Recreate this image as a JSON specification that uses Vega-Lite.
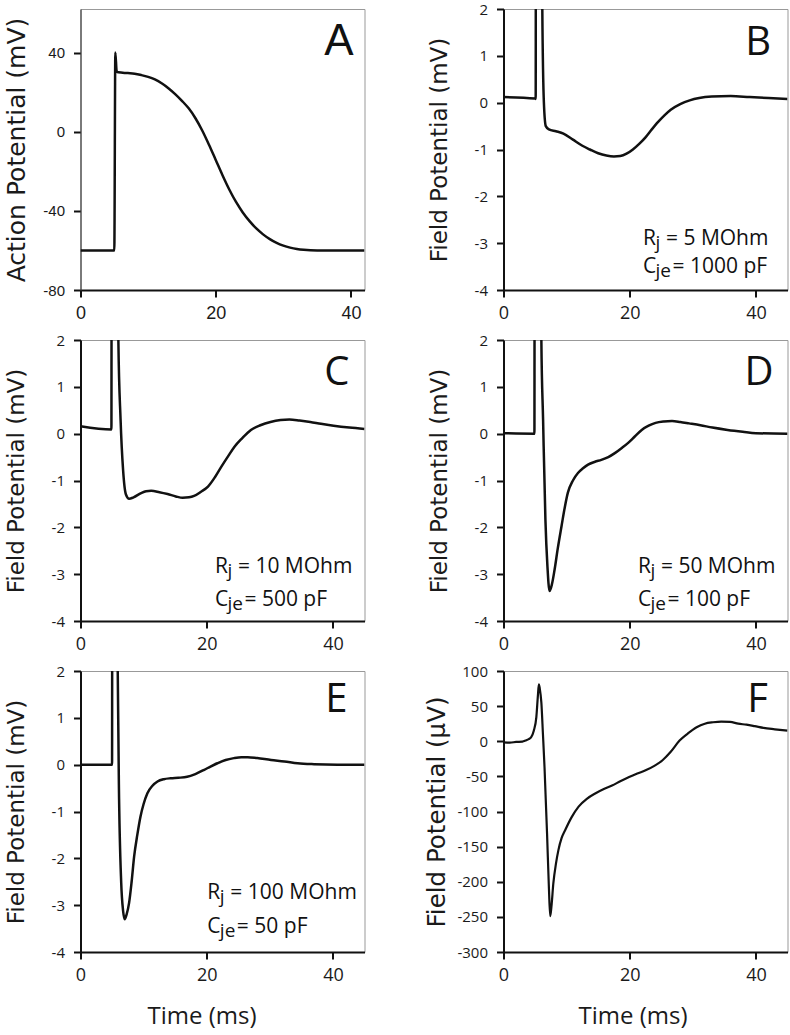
{
  "$schema": "https://vega.github.io/schema/vega-lite/v6.json",
  "background": "white",
  "padding": {"left": 3.5, "top": 1, "right": 0, "bottom": 0},
  "columns": 2,
  "spacing": {"row": 50, "column": 139},
  "bounds": "flush",
  "datasets": {
    "curves": [
      {"panel":"A","t":0,"v":-60},{"panel":"A","t":5.0,"v":-60},{"panel":"A","t":5.15,"v":40},{"panel":"A","t":5.35,"v":30.5},{"panel":"A","t":5.6,"v":30},{"panel":"A","t":7,"v":29.6},{"panel":"A","t":8,"v":29.3},{"panel":"A","t":9,"v":28.6},{"panel":"A","t":10,"v":27.7},{"panel":"A","t":11,"v":26.4},{"panel":"A","t":12,"v":24.5},{"panel":"A","t":13,"v":22.0},{"panel":"A","t":14,"v":19.0},{"panel":"A","t":15,"v":15.6},{"panel":"A","t":16,"v":11.8},{"panel":"A","t":17,"v":6.8},{"panel":"A","t":18,"v":0.6},{"panel":"A","t":19,"v":-6.6},{"panel":"A","t":20,"v":-14.3},{"panel":"A","t":21,"v":-22},{"panel":"A","t":22,"v":-29.2},{"panel":"A","t":23,"v":-35.5},{"panel":"A","t":24,"v":-40.8},{"panel":"A","t":25,"v":-45.2},{"panel":"A","t":26,"v":-48.9},{"panel":"A","t":27,"v":-51.9},{"panel":"A","t":28,"v":-54.3},{"panel":"A","t":29,"v":-56.2},{"panel":"A","t":30,"v":-57.6},{"panel":"A","t":31,"v":-58.6},{"panel":"A","t":32,"v":-59.3},{"panel":"A","t":33,"v":-59.7},{"panel":"A","t":35,"v":-60},{"panel":"A","t":42,"v":-60},

      {"panel":"B","t":0,"v":0.12},{"panel":"B","t":5.0,"v":0.09},{"panel":"B","t":5.1,"v":0.08},{"panel":"B","t":5.15,"v":8},{"panel":"B","t":5.9,"v":8},{"panel":"B","t":6.15,"v":2},{"panel":"B","t":6.4,"v":0},{"panel":"B","t":6.7,"v":-0.5},{"panel":"B","t":7.2,"v":-0.57},{"panel":"B","t":8.3,"v":-0.61},{"panel":"B","t":9.5,"v":-0.66},{"panel":"B","t":11,"v":-0.79},{"panel":"B","t":12.5,"v":-0.92},{"panel":"B","t":13.7,"v":-1.0},{"panel":"B","t":15,"v":-1.08},{"panel":"B","t":16.3,"v":-1.13},{"panel":"B","t":17.5,"v":-1.15},{"panel":"B","t":18.5,"v":-1.14},{"panel":"B","t":19.5,"v":-1.09},{"panel":"B","t":20.5,"v":-1.0},{"panel":"B","t":21.5,"v":-0.88},{"panel":"B","t":22.5,"v":-0.74},{"panel":"B","t":23.5,"v":-0.57},{"panel":"B","t":24.5,"v":-0.41},{"panel":"B","t":25.5,"v":-0.27},{"panel":"B","t":26.5,"v":-0.15},{"panel":"B","t":28,"v":-0.03},{"panel":"B","t":29.5,"v":0.05},{"panel":"B","t":31,"v":0.1},{"panel":"B","t":33,"v":0.13},{"panel":"B","t":36,"v":0.14},{"panel":"B","t":39,"v":0.12},{"panel":"B","t":42,"v":0.1},{"panel":"B","t":45,"v":0.08},

      {"panel":"C","t":0,"v":0.16},{"panel":"C","t":4.9,"v":0.09},{"panel":"C","t":4.95,"v":8},{"panel":"C","t":5.7,"v":8},{"panel":"C","t":6.0,"v":2},{"panel":"C","t":6.35,"v":0.3},{"panel":"C","t":6.75,"v":-0.78},{"panel":"C","t":7.2,"v":-1.3},{"panel":"C","t":7.7,"v":-1.39},{"panel":"C","t":8.4,"v":-1.36},{"panel":"C","t":9.6,"v":-1.27},{"panel":"C","t":10.4,"v":-1.23},{"panel":"C","t":11.2,"v":-1.22},{"panel":"C","t":12.5,"v":-1.25},{"panel":"C","t":13.8,"v":-1.29},{"panel":"C","t":15.1,"v":-1.34},{"panel":"C","t":16.2,"v":-1.37},{"panel":"C","t":17.2,"v":-1.36},{"panel":"C","t":18,"v":-1.33},{"panel":"C","t":19.1,"v":-1.24},{"panel":"C","t":20.2,"v":-1.13},{"panel":"C","t":21.3,"v":-0.93},{"panel":"C","t":22.3,"v":-0.71},{"panel":"C","t":23.4,"v":-0.48},{"panel":"C","t":24.4,"v":-0.28},{"panel":"C","t":25.6,"v":-0.1},{"panel":"C","t":27,"v":0.08},{"panel":"C","t":28.5,"v":0.18},{"panel":"C","t":30.1,"v":0.25},{"panel":"C","t":31.7,"v":0.29},{"panel":"C","t":33.1,"v":0.3},{"panel":"C","t":34.7,"v":0.28},{"panel":"C","t":36.4,"v":0.25},{"panel":"C","t":38.1,"v":0.21},{"panel":"C","t":40.1,"v":0.17},{"panel":"C","t":42.6,"v":0.13},{"panel":"C","t":45,"v":0.1},

      {"panel":"D","t":0,"v":0.01},{"panel":"D","t":4.9,"v":0.0},{"panel":"D","t":4.95,"v":8},{"panel":"D","t":5.7,"v":8},{"panel":"D","t":6.0,"v":2},{"panel":"D","t":6.27,"v":0.31},{"panel":"D","t":6.64,"v":-1.83},{"panel":"D","t":6.96,"v":-2.83},{"panel":"D","t":7.3,"v":-3.36},{"panel":"D","t":7.7,"v":-3.2},{"panel":"D","t":8.1,"v":-2.9},{"panel":"D","t":8.6,"v":-2.45},{"panel":"D","t":9.2,"v":-1.97},{"panel":"D","t":9.7,"v":-1.58},{"panel":"D","t":10.2,"v":-1.26},{"panel":"D","t":11,"v":-1.0},{"panel":"D","t":11.8,"v":-0.84},{"panel":"D","t":12.6,"v":-0.74},{"panel":"D","t":13.4,"v":-0.66},{"panel":"D","t":14.5,"v":-0.6},{"panel":"D","t":15.5,"v":-0.56},{"panel":"D","t":16.6,"v":-0.5},{"panel":"D","t":17.7,"v":-0.41},{"panel":"D","t":18.8,"v":-0.3},{"panel":"D","t":19.8,"v":-0.19},{"panel":"D","t":20.8,"v":-0.06},{"panel":"D","t":21.9,"v":0.08},{"panel":"D","t":23,"v":0.17},{"panel":"D","t":24.1,"v":0.23},{"panel":"D","t":25.4,"v":0.26},{"panel":"D","t":26.7,"v":0.27},{"panel":"D","t":28,"v":0.25},{"panel":"D","t":29.4,"v":0.22},{"panel":"D","t":31.2,"v":0.18},{"panel":"D","t":33.1,"v":0.13},{"panel":"D","t":35.5,"v":0.08},{"panel":"D","t":37.9,"v":0.04},{"panel":"D","t":40,"v":0.01},{"panel":"D","t":45,"v":0.0},

      {"panel":"E","t":0,"v":0},{"panel":"E","t":5.0,"v":0},{"panel":"E","t":5.05,"v":8},{"panel":"E","t":5.6,"v":8},{"panel":"E","t":5.9,"v":2},{"panel":"E","t":6.08,"v":-0.4},{"panel":"E","t":6.45,"v":-2.52},{"panel":"E","t":6.75,"v":-3.12},{"panel":"E","t":7.0,"v":-3.3},{"panel":"E","t":7.3,"v":-3.2},{"panel":"E","t":7.7,"v":-2.95},{"panel":"E","t":8.1,"v":-2.5},{"panel":"E","t":8.5,"v":-1.96},{"panel":"E","t":9.0,"v":-1.5},{"panel":"E","t":9.5,"v":-1.11},{"panel":"E","t":10,"v":-0.84},{"panel":"E","t":10.6,"v":-0.61},{"panel":"E","t":11.4,"v":-0.45},{"panel":"E","t":12.2,"v":-0.36},{"panel":"E","t":13.2,"v":-0.31},{"panel":"E","t":14.3,"v":-0.29},{"panel":"E","t":15.5,"v":-0.28},{"panel":"E","t":16.9,"v":-0.26},{"panel":"E","t":18.2,"v":-0.2},{"panel":"E","t":19.6,"v":-0.11},{"panel":"E","t":20.6,"v":-0.04},{"panel":"E","t":21.7,"v":0.03},{"panel":"E","t":23,"v":0.1},{"panel":"E","t":24.3,"v":0.14},{"panel":"E","t":25.5,"v":0.16},{"panel":"E","t":26.5,"v":0.16},{"panel":"E","t":28,"v":0.14},{"panel":"E","t":30.2,"v":0.1},{"panel":"E","t":32.3,"v":0.07},{"panel":"E","t":34.4,"v":0.03},{"panel":"E","t":37,"v":0.01},{"panel":"E","t":40.7,"v":0},{"panel":"E","t":45,"v":0},

      {"panel":"F","t":0,"v":-1.5},{"panel":"F","t":1,"v":-2},{"panel":"F","t":2,"v":-1},{"panel":"F","t":3,"v":-0.5},{"panel":"F","t":3.5,"v":1},{"panel":"F","t":4.0,"v":3},{"panel":"F","t":4.4,"v":6},{"panel":"F","t":4.8,"v":15},{"panel":"F","t":5.2,"v":34},{"panel":"F","t":5.45,"v":65},{"panel":"F","t":5.6,"v":81},{"panel":"F","t":5.75,"v":75},{"panel":"F","t":6.0,"v":55},{"panel":"F","t":6.25,"v":10},{"panel":"F","t":6.5,"v":-37},{"panel":"F","t":6.9,"v":-131},{"panel":"F","t":7.2,"v":-210},{"panel":"F","t":7.4,"v":-249},{"panel":"F","t":7.6,"v":-235},{"panel":"F","t":7.9,"v":-202},{"panel":"F","t":8.3,"v":-175},{"panel":"F","t":8.7,"v":-155},{"panel":"F","t":9.2,"v":-138},{"panel":"F","t":9.8,"v":-126},{"panel":"F","t":10.8,"v":-108},{"panel":"F","t":11.9,"v":-93},{"panel":"F","t":13.2,"v":-82},{"panel":"F","t":14.6,"v":-74},{"panel":"F","t":15.9,"v":-68},{"panel":"F","t":17.2,"v":-63},{"panel":"F","t":18.5,"v":-57},{"panel":"F","t":19.9,"v":-51},{"panel":"F","t":21.2,"v":-46},{"panel":"F","t":22.6,"v":-41},{"panel":"F","t":23.9,"v":-35},{"panel":"F","t":25.2,"v":-27},{"panel":"F","t":26.5,"v":-15},{"panel":"F","t":27.9,"v":1},{"panel":"F","t":29.2,"v":11},{"panel":"F","t":30.6,"v":20},{"panel":"F","t":31.9,"v":25},{"panel":"F","t":33.2,"v":27},{"panel":"F","t":34.5,"v":28},{"panel":"F","t":35.9,"v":27.5},{"panel":"F","t":37.2,"v":25},{"panel":"F","t":38.5,"v":23.6},{"panel":"F","t":39.8,"v":21.5},{"panel":"F","t":41.2,"v":19},{"panel":"F","t":43,"v":17},{"panel":"F","t":45,"v":15}
    ],
    "letters": [
      {"panel":"A","t":40.4,"v":38.8,"label":"A"},
      {"panel":"B","t":42.4,"v":1.02,"label":"B"},
      {"panel":"C","t":42.6,"v":1.04,"label":"C"},
      {"panel":"D","t":42.8,"v":1.04,"label":"D"},
      {"panel":"E","t":42.3,"v":1.12,"label":"E"},
      {"panel":"F","t":41.9,"v":42,"label":"F"}
    ],
    "notes": [
      {"panel":"B","line":1,"t":22.1,"v":-3.04,"base":"R","sub":"j","rest":"= 5 MOhm"},
      {"panel":"B","line":2,"t":22.1,"v":-3.64,"base":"C","sub":"je","rest":"= 1000 pF"},
      {"panel":"C","line":1,"t":21.3,"v":-2.98,"base":"R","sub":"j","rest":"= 10 MOhm"},
      {"panel":"C","line":2,"t":21.3,"v":-3.68,"base":"C","sub":"je","rest":"= 500 pF"},
      {"panel":"D","line":1,"t":21.3,"v":-2.98,"base":"R","sub":"j","rest":"= 50 MOhm"},
      {"panel":"D","line":2,"t":21.3,"v":-3.68,"base":"C","sub":"je","rest":"= 100 pF"},
      {"panel":"E","line":1,"t":20.1,"v":-2.87,"base":"R","sub":"j","rest":"= 100 MOhm"},
      {"panel":"E","line":2,"t":20.1,"v":-3.59,"base":"C","sub":"je","rest":"= 50 pF"}
    ]
  },
  "concat": [
    {
      "width": 284, "height": 281,
      "encoding": {
        "x": {"field": "t", "type": "quantitative", "scale": {"domain": [0, 42], "nice": false, "zero": false}, "axis": {"values": [0, 20, 40], "title": null, "labelFont": "Liberation Sans"}},
        "y": {"field": "v", "type": "quantitative", "scale": {"domain": [-80, 62], "nice": false, "zero": false}, "axis": {"values": [-80, -40, 0, 40], "title": "Action Potential (mV)", "titleFontSize": 25, "labelFont": "Liberation Sans", "domainWidth": 1.2, "domainColor": "#444"}}
      },
      "layer": [
        {"data": {"name": "curves"}, "transform": [{"filter": "datum.panel === 'A'"}],
         "mark": {"type": "line", "color": "#111", "strokeWidth": 2.5, "clip": true, "interpolate": "monotone"}},
        {"data": {"name": "letters"}, "transform": [{"filter": "datum.panel === 'A'"}],
         "mark": {"type": "text", "align": "right", "baseline": "alphabetic", "font": "Liberation Sans", "fontSize": 44, "color": "#111"},
         "encoding": {"text": {"field": "label"}}}
      ]
    },
    {
      "width": 284, "height": 281,
      "encoding": {
        "x": {"field": "t", "type": "quantitative", "scale": {"domain": [0, 45], "nice": false, "zero": false}, "axis": {"values": [0, 20, 40], "title": null}},
        "y": {"field": "v", "type": "quantitative", "scale": {"domain": [-4, 2], "nice": false, "zero": false}, "axis": {"values": [-4, -3, -2, -1, 0, 1, 2], "title": "Field Potential (mV)"}}
      },
      "layer": [
        {"data": {"name": "curves"}, "transform": [{"filter": "datum.panel === 'B'"}],
         "mark": {"type": "line", "color": "#111", "strokeWidth": 2.5, "clip": true, "interpolate": "monotone"}},
        {"data": {"name": "letters"}, "transform": [{"filter": "datum.panel === 'B'"}],
         "mark": {"type": "text", "align": "right", "baseline": "alphabetic", "font": "Open Sans", "fontSize": 40, "color": "#111"},
         "encoding": {"text": {"field": "label"}}},
        {"data": {"name": "notes"}, "transform": [{"filter": "datum.panel === 'B'"}],
         "mark": {"type": "text", "align": "left", "baseline": "alphabetic", "font": "Open Sans", "fontSize": 21, "color": "#111"},
         "encoding": {"text": {"field": "base"}}},
        {"data": {"name": "notes"}, "transform": [{"filter": "datum.panel === 'B'"}],
         "mark": {"type": "text", "align": "left", "baseline": "alphabetic", "font": "Open Sans", "fontSize": 19, "color": "#111", "dx": 12.5, "dy": 4},
         "encoding": {"text": {"field": "sub"}}},
        {"data": {"name": "notes"}, "transform": [{"filter": "datum.panel === 'B' && datum.line === 1"}],
         "mark": {"type": "text", "align": "left", "baseline": "alphabetic", "font": "Open Sans", "fontSize": 21, "color": "#111", "dx": 23},
         "encoding": {"text": {"field": "rest"}}},
        {"data": {"name": "notes"}, "transform": [{"filter": "datum.panel === 'B' && datum.line === 2"}],
         "mark": {"type": "text", "align": "left", "baseline": "alphabetic", "font": "Open Sans", "fontSize": 21, "color": "#111", "dx": 29.5},
         "encoding": {"text": {"field": "rest"}}}
      ]
    },
    {
      "width": 284, "height": 281,
      "encoding": {
        "x": {"field": "t", "type": "quantitative", "scale": {"domain": [0, 45], "nice": false, "zero": false}, "axis": {"values": [0, 20, 40], "title": null}},
        "y": {"field": "v", "type": "quantitative", "scale": {"domain": [-4, 2], "nice": false, "zero": false}, "axis": {"values": [-4, -3, -2, -1, 0, 1, 2], "title": "Field Potential (mV)"}}
      },
      "layer": [
        {"data": {"name": "curves"}, "transform": [{"filter": "datum.panel === 'C'"}],
         "mark": {"type": "line", "color": "#111", "strokeWidth": 2.5, "clip": true, "interpolate": "monotone"}},
        {"data": {"name": "letters"}, "transform": [{"filter": "datum.panel === 'C'"}],
         "mark": {"type": "text", "align": "right", "baseline": "alphabetic", "font": "Open Sans", "fontSize": 40, "color": "#111"},
         "encoding": {"text": {"field": "label"}}},
        {"data": {"name": "notes"}, "transform": [{"filter": "datum.panel === 'C'"}],
         "mark": {"type": "text", "align": "left", "baseline": "alphabetic", "font": "Open Sans", "fontSize": 21, "color": "#111"},
         "encoding": {"text": {"field": "base"}}},
        {"data": {"name": "notes"}, "transform": [{"filter": "datum.panel === 'C'"}],
         "mark": {"type": "text", "align": "left", "baseline": "alphabetic", "font": "Open Sans", "fontSize": 19, "color": "#111", "dx": 12.5, "dy": 4},
         "encoding": {"text": {"field": "sub"}}},
        {"data": {"name": "notes"}, "transform": [{"filter": "datum.panel === 'C' && datum.line === 1"}],
         "mark": {"type": "text", "align": "left", "baseline": "alphabetic", "font": "Open Sans", "fontSize": 21, "color": "#111", "dx": 23},
         "encoding": {"text": {"field": "rest"}}},
        {"data": {"name": "notes"}, "transform": [{"filter": "datum.panel === 'C' && datum.line === 2"}],
         "mark": {"type": "text", "align": "left", "baseline": "alphabetic", "font": "Open Sans", "fontSize": 21, "color": "#111", "dx": 29.5},
         "encoding": {"text": {"field": "rest"}}}
      ]
    },
    {
      "width": 284, "height": 281,
      "encoding": {
        "x": {"field": "t", "type": "quantitative", "scale": {"domain": [0, 45], "nice": false, "zero": false}, "axis": {"values": [0, 20, 40], "title": null}},
        "y": {"field": "v", "type": "quantitative", "scale": {"domain": [-4, 2], "nice": false, "zero": false}, "axis": {"values": [-4, -3, -2, -1, 0, 1, 2], "title": "Field Potential (mV)"}}
      },
      "layer": [
        {"data": {"name": "curves"}, "transform": [{"filter": "datum.panel === 'D'"}],
         "mark": {"type": "line", "color": "#111", "strokeWidth": 2.5, "clip": true, "interpolate": "monotone"}},
        {"data": {"name": "letters"}, "transform": [{"filter": "datum.panel === 'D'"}],
         "mark": {"type": "text", "align": "right", "baseline": "alphabetic", "font": "Open Sans", "fontSize": 40, "color": "#111"},
         "encoding": {"text": {"field": "label"}}},
        {"data": {"name": "notes"}, "transform": [{"filter": "datum.panel === 'D'"}],
         "mark": {"type": "text", "align": "left", "baseline": "alphabetic", "font": "Open Sans", "fontSize": 21, "color": "#111"},
         "encoding": {"text": {"field": "base"}}},
        {"data": {"name": "notes"}, "transform": [{"filter": "datum.panel === 'D'"}],
         "mark": {"type": "text", "align": "left", "baseline": "alphabetic", "font": "Open Sans", "fontSize": 19, "color": "#111", "dx": 12.5, "dy": 4},
         "encoding": {"text": {"field": "sub"}}},
        {"data": {"name": "notes"}, "transform": [{"filter": "datum.panel === 'D' && datum.line === 1"}],
         "mark": {"type": "text", "align": "left", "baseline": "alphabetic", "font": "Open Sans", "fontSize": 21, "color": "#111", "dx": 23},
         "encoding": {"text": {"field": "rest"}}},
        {"data": {"name": "notes"}, "transform": [{"filter": "datum.panel === 'D' && datum.line === 2"}],
         "mark": {"type": "text", "align": "left", "baseline": "alphabetic", "font": "Open Sans", "fontSize": 21, "color": "#111", "dx": 29.5},
         "encoding": {"text": {"field": "rest"}}}
      ]
    },
    {
      "width": 284, "height": 281,
      "encoding": {
        "x": {"field": "t", "type": "quantitative", "scale": {"domain": [0, 45], "nice": false, "zero": false}, "axis": {"values": [0, 20, 40], "title": "Time (ms)", "titleX": 121}},
        "y": {"field": "v", "type": "quantitative", "scale": {"domain": [-4, 2], "nice": false, "zero": false}, "axis": {"values": [-4, -3, -2, -1, 0, 1, 2], "title": "Field Potential (mV)"}}
      },
      "layer": [
        {"data": {"name": "curves"}, "transform": [{"filter": "datum.panel === 'E'"}],
         "mark": {"type": "line", "color": "#111", "strokeWidth": 2.5, "clip": true, "interpolate": "monotone"}},
        {"data": {"name": "letters"}, "transform": [{"filter": "datum.panel === 'E'"}],
         "mark": {"type": "text", "align": "right", "baseline": "alphabetic", "font": "Open Sans", "fontSize": 40, "color": "#111"},
         "encoding": {"text": {"field": "label"}}},
        {"data": {"name": "notes"}, "transform": [{"filter": "datum.panel === 'E'"}],
         "mark": {"type": "text", "align": "left", "baseline": "alphabetic", "font": "Open Sans", "fontSize": 21, "color": "#111"},
         "encoding": {"text": {"field": "base"}}},
        {"data": {"name": "notes"}, "transform": [{"filter": "datum.panel === 'E'"}],
         "mark": {"type": "text", "align": "left", "baseline": "alphabetic", "font": "Open Sans", "fontSize": 19, "color": "#111", "dx": 12.5, "dy": 4},
         "encoding": {"text": {"field": "sub"}}},
        {"data": {"name": "notes"}, "transform": [{"filter": "datum.panel === 'E' && datum.line === 1"}],
         "mark": {"type": "text", "align": "left", "baseline": "alphabetic", "font": "Open Sans", "fontSize": 21, "color": "#111", "dx": 23},
         "encoding": {"text": {"field": "rest"}}},
        {"data": {"name": "notes"}, "transform": [{"filter": "datum.panel === 'E' && datum.line === 2"}],
         "mark": {"type": "text", "align": "left", "baseline": "alphabetic", "font": "Open Sans", "fontSize": 21, "color": "#111", "dx": 29.5},
         "encoding": {"text": {"field": "rest"}}}
      ]
    },
    {
      "width": 284, "height": 281,
      "encoding": {
        "x": {"field": "t", "type": "quantitative", "scale": {"domain": [0, 45], "nice": false, "zero": false}, "axis": {"values": [0, 20, 40], "title": "Time (ms)", "titleX": 129}},
        "y": {"field": "v", "type": "quantitative", "scale": {"domain": [-300, 100], "nice": false, "zero": false}, "axis": {"values": [-300, -250, -200, -150, -100, -50, 0, 50, 100], "title": "Field Potential (µV)", "titleFontSize": 24.5, "titleX": -66}}
      },
      "layer": [
        {"data": {"name": "curves"}, "transform": [{"filter": "datum.panel === 'F'"}],
         "mark": {"type": "line", "color": "#111", "strokeWidth": 2.2, "clip": true, "interpolate": "monotone"}},
        {"data": {"name": "letters"}, "transform": [{"filter": "datum.panel === 'F'"}],
         "mark": {"type": "text", "align": "right", "baseline": "alphabetic", "font": "Open Sans", "fontSize": 40, "color": "#111"},
         "encoding": {"text": {"field": "label"}}}
      ]
    }
  ],
  "config": {
    "view": {"stroke": "#999999", "strokeWidth": 1},
    "axis": {"grid": false, "domainColor": "#111", "domainWidth": 2, "tickColor": "#111", "tickWidth": 2, "tickSize": 7, "labelColor": "#1a1a1a", "titleColor": "#1a1a1a", "labelFlush": false, "labelOverlap": false, "titleFontWeight": "normal", "labelExpr": "'' + datum.value"},
    "axisX": {"labelFontSize": 18, "labelPadding": 7, "labelFont": "Open Sans", "titleFont": "Open Sans", "titleFontSize": 24, "titleY": 71, "titleBaseline": "alphabetic", "titleAlign": "center"},
    "axisY": {"labelFontSize": 15, "labelPadding": 9, "labelFont": "Open Sans", "titleFont": "DejaVu Sans", "titleFontSize": 23, "titleX": -64, "titleY": 140.5, "titleBaseline": "middle", "titleAlign": "center", "titleAngle": -90}
  }
}
